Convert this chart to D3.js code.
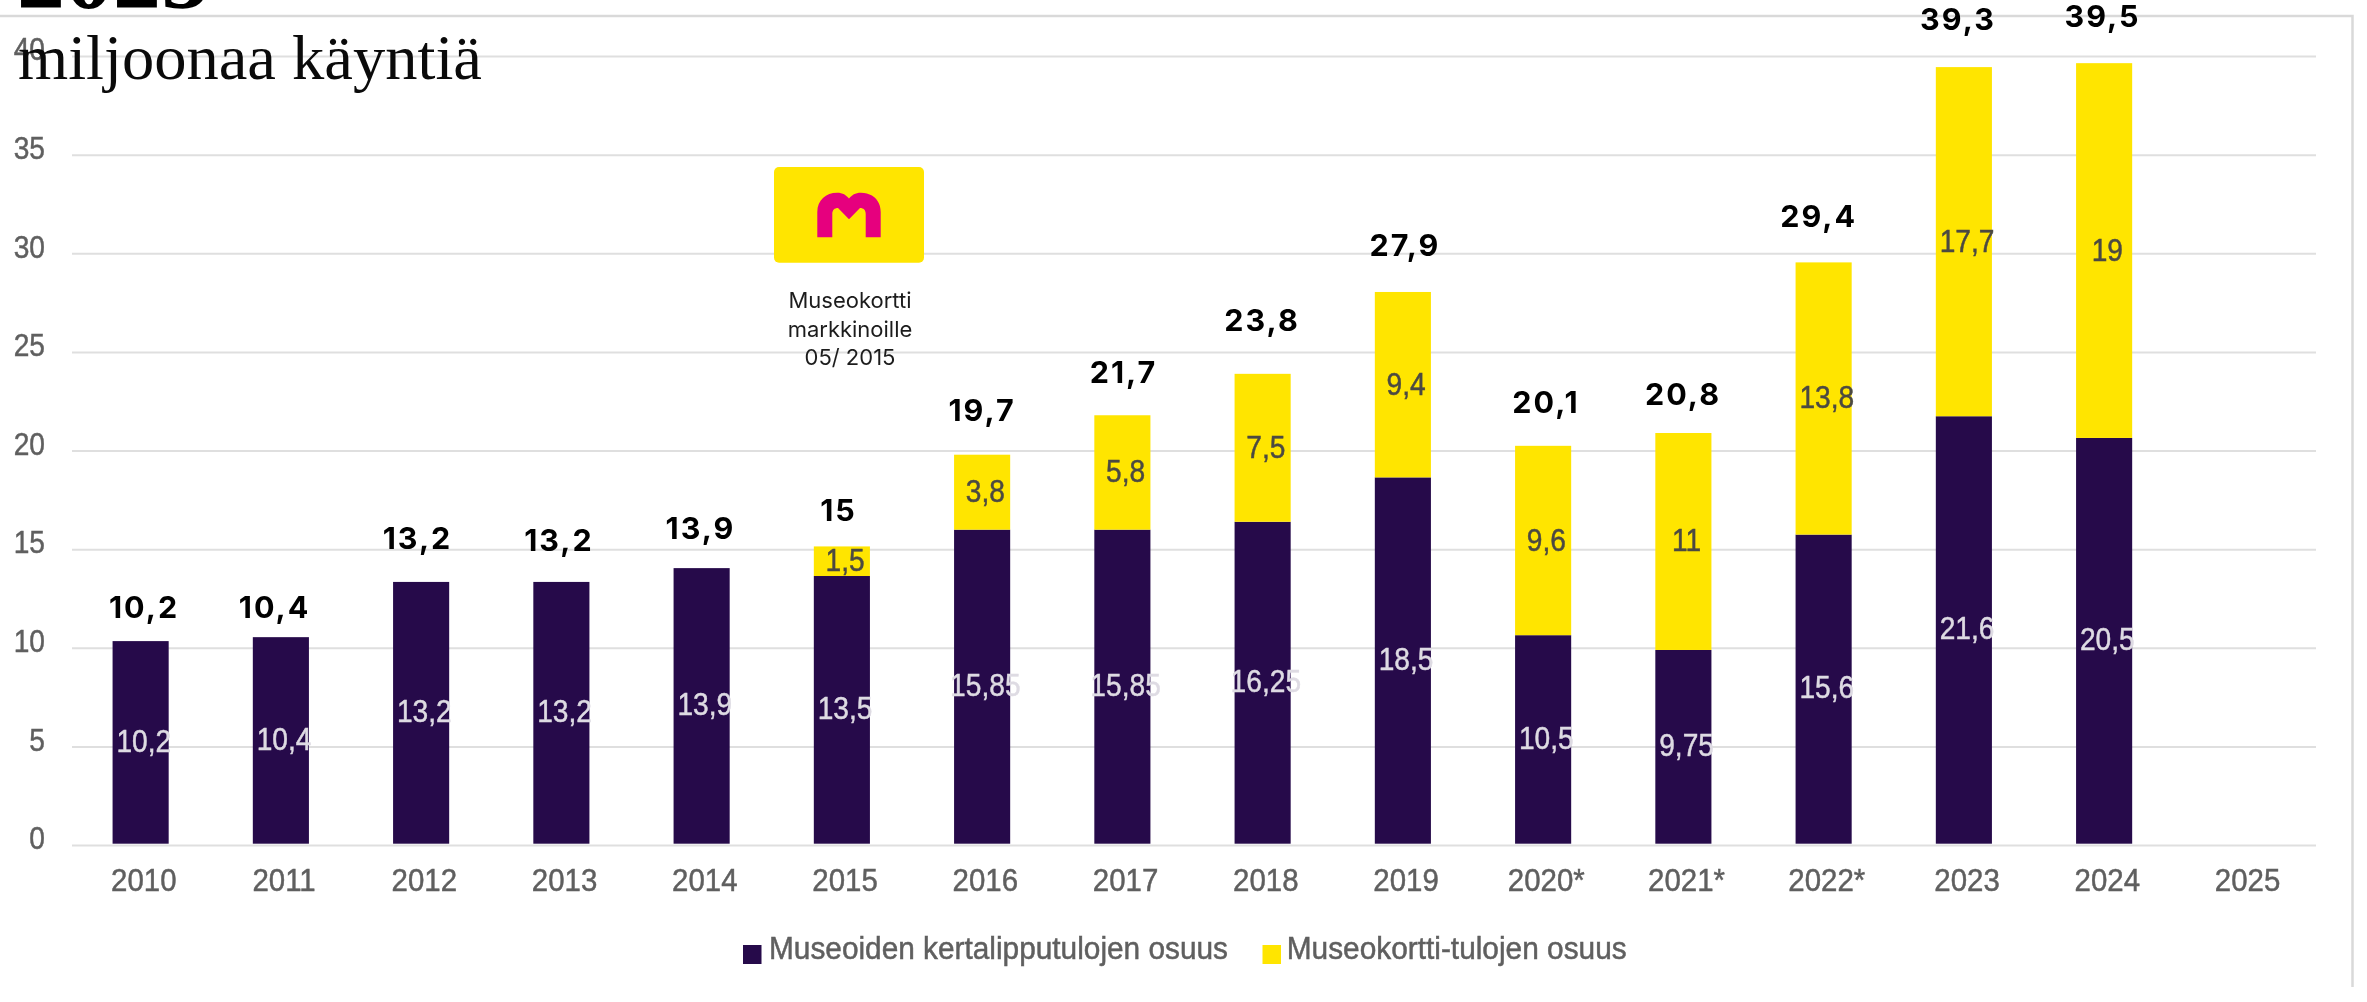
<!DOCTYPE html>
<html>
<head>
<meta charset="utf-8">
<title>Museokäynnit</title>
<script src="https://cdn.jsdelivr.net/npm/d3@7"></script>
<style>
  html, body { margin: 0; background: #fff; overflow: hidden; }
  svg { display: block; font-family: "Liberation Sans", sans-serif; }
  .soft { filter: url(#soft); }
</style>
</head>
<body>
<svg id="chart" width="2367" height="1002"></svg>
<script>
// chart values
var years = ["2010", "2011", "2012", "2013", "2014", "2015", "2016", "2017", "2018", "2019", "2020*", "2021*", "2022*", "2023", "2024", "2025"];
var ticketValues = [10.2, 10.4, 13.2, 13.2, 13.9, 13.5, 15.85, 15.85, 16.25, 18.5, 10.5, 9.75, 15.6, 21.6, 20.5, 0];
var cardValues = [0, 0, 0, 0, 0, 1.5, 3.8, 5.8, 7.5, 9.4, 9.6, 11, 13.8, 17.7, 19, 0];
var totalLabels = ["10,2", "10,4", "13,2", "13,2", "13,9", "15", "19,7", "21,7", "23,8", "27,9", "20,1", "20,8", "29,4", "39,3", "39,5", ""];
var yTicks = [0, 5, 10, 15, 20, 25, 30, 35, 40];
var seriesNames = ["Museoiden kertalipputulojen osuus", "Museokortti-tulojen osuus"];
var logoLines = ["Museokortti", "markkinoille", "05/ 2015"];

// the total labels were placed by hand in the original, so they sit a bit off from the bars
var totalNudgeX = [3.4, -6.3, -3.6, -2.4, -1.1, -3.4, -0.1, 1.1, -0.6, 2.1, 2.9, -0.4, -4.9, -5.9, -1.6, 0];
var totalGap = [22.9, 18.9, 33, 31.3, 29.5, 25.2, 33.8, 32.1, 42.6, 36.4, 33, 28.5, 35.5, 37.3, 35.7, 0];

var darkColor = "#260a4a";
var yellowColor = "#ffe500";
var pinkColor = "#e6007e";
var gridColor = "#dfdfdf";
var axisTextColor = "#5f5f5f";

var svg = d3.select("#chart");

svg.append("defs").append("filter")
  .attr("id", "soft")
  .append("feGaussianBlur")
  .attr("stdDeviation", 0.6);

var x = d3.scaleBand()
  .domain(years)
  .range([70.5, 2314.5])
  .paddingInner(0.6)
  .paddingOuter(0.3);

var y = d3.scaleLinear()
  .domain([0, 40])
  .range([845, 56]);

// bars sit a few pixels higher than the gridlines in the reference
var yBar = y.copy().range([842.3, 53.3]);

// outer frame
svg.append("path")
  .attr("d", "M0,16H2352.5V987")
  .attr("fill", "none")
  .attr("stroke", "#d9d9d9")
  .attr("stroke-width", 2.5);

// y axis with gridlines
var yAxis = svg.append("g")
  .attr("transform", "translate(72,0)")
  .call(d3.axisLeft(y).tickValues(yTicks).tickSize(-2244).tickPadding(27));

yAxis.select(".domain").remove();
yAxis.selectAll("line").attr("stroke", gridColor).attr("stroke-width", 2);
yAxis.selectAll("text")
  .attr("class", "soft")
  .attr("fill", axisTextColor)
  .attr("stroke", axisTextColor)
  .attr("stroke-width", 0.5)
  .attr("font-size", 32)
  .attr("dy", 3.8)
  .attr("x", -27 / 0.88)
  .attr("transform", "scale(0.88,1)");

// x axis
var xAxis = svg.append("g")
  .attr("transform", "translate(3.2,845)")
  .call(d3.axisBottom(x).tickSize(0).tickPadding(0));

xAxis.select(".domain").remove();
xAxis.selectAll("text")
  .attr("class", "soft")
  .attr("fill", axisTextColor)
  .attr("stroke", axisTextColor)
  .attr("stroke-width", 0.5)
  .attr("font-size", 32)
  .attr("y", 46.5)
  .attr("dy", 0)
  .attr("transform", "scale(0.92,1)");

// stacked bars
var rows = years.map(function(year, i) {
  return { year: year, ticket: ticketValues[i], card: cardValues[i] };
});

var stack = d3.stack().keys(["ticket", "card"]);
var layers = stack(rows);
var layerColors = [darkColor, yellowColor];

svg.selectAll(".layer")
  .data(layers)
  .join("g")
  .attr("class", "layer")
  .attr("fill", function(d, i) { return layerColors[i]; })
  .selectAll("rect")
  .data(function(d) { return d.filter(function(p) { return p[1] > p[0]; }); })
  .join("rect")
  .attr("x", function(d) { return x(d.data.year); })
  .attr("width", x.bandwidth())
  .attr("y", function(d) { return yBar(d[1]); })
  .attr("height", function(d) { return yBar(d[0]) - yBar(d[1]) + (d[0] === 0 ? 1.4 : 0); });

// labels inside the segments
var segmentTextColors = ["#dedbe3", "#4c4a42"];

function commaText(v) {
  return String(+v.toFixed(2)).replace(".", ",");
}

svg.selectAll(".segment-labels")
  .data(layers)
  .join("g")
  .attr("class", "segment-labels soft")
  .attr("fill", function(d, i) { return segmentTextColors[i]; })
  .attr("stroke", function(d, i) { return segmentTextColors[i]; })
  .attr("stroke-width", 0.5)
  .selectAll("text")
  .data(function(d) { return d.filter(function(p) { return p[1] > p[0]; }); })
  .join("text")
  .attr("text-anchor", "middle")
  .attr("font-size", 32)
  .attr("transform", function(d) {
    var cx = x(d.data.year) + x.bandwidth() / 2 + 3.2;
    var cy = yBar((d[0] + d[1]) / 2) + 10;
    return "translate(" + cx + "," + cy + ") scale(0.88,1)";
  })
  .text(function(d) { return commaText(d[1] - d[0]); });

// totals above the bars
var stackTop = layers[1];

svg.append("g")
  .selectAll("text")
  .data(totalLabels)
  .join("text")
  .attr("text-anchor", "middle")
  .attr("font-family", "Inter, sans-serif")
  .attr("font-weight", 700)
  .attr("font-size", 30.5)
  .attr("letter-spacing", 2)
  .attr("fill", "#000")
  .attr("x", function(d, i) { return x(years[i]) + x.bandwidth() / 2 + totalNudgeX[i]; })
  .attr("y", function(d, i) { return yBar(stackTop[i][1]) - totalGap[i]; })
  .text(function(d) { return d; });

// Museokortti logo and note
var logo = svg.append("g").attr("transform", "translate(774,167)");

logo.append("rect")
  .attr("width", 150)
  .attr("height", 95.7)
  .attr("rx", 5)
  .attr("fill", yellowColor);

logo.append("path")
  .attr("fill", pinkColor)
  .attr("d", "M43.3,70.3V45C43.3,33 52,25.7 63,25.7C69,25.7 72,28 75,31.5C78,28 81,25.7 87,25.7C98,25.7 106.7,33 106.7,45V70.3H91.7V47C91.7,43 89.5,41 86,41L75,52.3L64,41C60.5,41 58.3,43 58.3,47V70.3Z");

svg.append("g")
  .selectAll("text")
  .data(logoLines)
  .join("text")
  .attr("text-anchor", "middle")
  .attr("font-family", "Inter, sans-serif")
  .attr("font-size", 22)
  .attr("fill", "#1c1c1c")
  .attr("x", 850)
  .attr("y", function(d, i) { return 308.3 + i * 28.3; })
  .text(function(d) { return d; });

// legend
var legendX = [743, 1262.5];
var legendTextX = [769, 1286.7];
var legendTextW = [459, 340];

var legend = svg.append("g");

legend.selectAll("rect")
  .data(seriesNames)
  .join("rect")
  .attr("x", function(d, i) { return legendX[i]; })
  .attr("y", 945)
  .attr("width", 18.5)
  .attr("height", 19)
  .attr("fill", function(d, i) { return layerColors[i]; });

legend.selectAll("text")
  .data(seriesNames)
  .join("text")
  .attr("class", "soft")
  .attr("x", function(d, i) { return legendTextX[i]; })
  .attr("y", 959)
  .attr("font-size", 31)
  .attr("fill", axisTextColor)
  .attr("stroke", axisTextColor)
  .attr("stroke-width", 0.5)
  .attr("textLength", function(d, i) { return legendTextW[i]; })
  .attr("lengthAdjust", "spacingAndGlyphs")
  .text(function(d) { return d; });

// title pasted over the chart, first line is cut by the top edge
svg.append("text")
  .attr("x", 17)
  .attr("y", 7.5)
  .attr("font-family", "Liberation Serif, serif")
  .attr("font-weight", 700)
  .attr("font-size", 96)
  .attr("fill", "#000")
  .text("2025");

svg.append("text")
  .attr("x", 18)
  .attr("y", 79)
  .attr("font-family", "Liberation Serif, serif")
  .attr("font-size", 64)
  .attr("fill", "#0a0a0a")
  .attr("textLength", 464)
  .attr("lengthAdjust", "spacingAndGlyphs")
  .text("miljoonaa käyntiä");
</script>
</body>
</html>
